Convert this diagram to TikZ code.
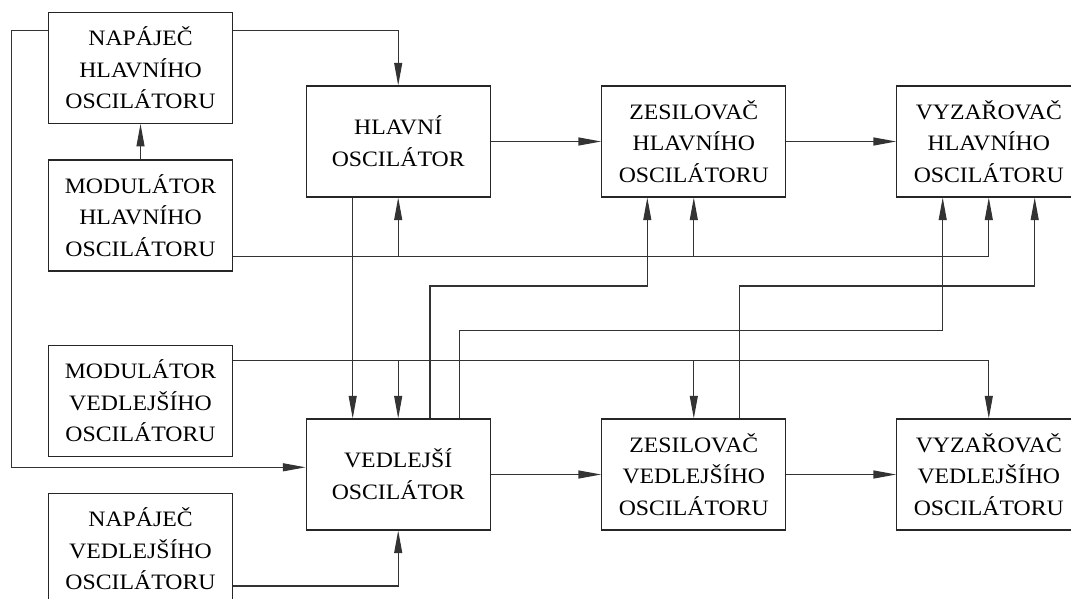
\documentclass[tikz,border=0pt]{standalone}
\usepackage{fontspec}
\setmainfont{Liberation Serif}[FakeStretch=1.08]
\usetikzlibrary{arrows.meta}
\begin{document}
\begin{tikzpicture}[x=0.75pt,y=-0.75pt,
  box/.style={draw=black!85, line width=0.8pt, minimum width=138.2pt, minimum height=83.25pt,
              inner sep=0pt, align=center, font=\fontsize{16.5}{23.8}\selectfont},
  wire/.style={draw=black!80, line width=0.8pt},
  arr/.style={wire, -{Triangle[length=17pt,width=6pt]}}]
\useasboundingbox (0,0) rectangle (1071,599);
\clip (0,0) rectangle (1071,599);

% boxes
\node[box] (NH) at (140.5,67.8)  {NAPÁJEČ\\HLAVNÍHO\\OSCILÁTORU};
\node[box] (MH) at (140.5,215.5) {MODULÁTOR\\HLAVNÍHO\\OSCILÁTORU};
\node[box] (MV) at (140.5,400.8) {MODULÁTOR\\VEDLEJŠÍHO\\OSCILÁTORU};
\node[box] (NV) at (140.5,548.8) {NAPÁJEČ\\VEDLEJŠÍHO\\OSCILÁTORU};
\node[box] (HO) at (398.2,141.5) {HLAVNÍ\\OSCILÁTOR};
\node[box] (VO) at (398.2,474.5) {VEDLEJŠÍ\\OSCILÁTOR};
\node[box] (ZH) at (693.8,141.5) {ZESILOVAČ\\HLAVNÍHO\\OSCILÁTORU};
\node[box] (ZV) at (693.8,474.5) {ZESILOVAČ\\VEDLEJŠÍHO\\OSCILÁTORU};
\node[box] (VH) at (988.8,141.5) {VYZAŘOVAČ\\HLAVNÍHO\\OSCILÁTORU};
\node[box] (VV) at (988.8,474.5) {VYZAŘOVAČ\\VEDLEJŠÍHO\\OSCILÁTORU};

% bend points
\coordinate (bendL) at (11.7,467.3);
\coordinate (b1) at (647.3,286);
\coordinate (b2) at (942.7,330.7);
\coordinate (b3) at (1034.7,286);

% main chains
\draw[arr] (HO.east) -- (ZH.west);
\draw[arr] (ZH.east) -- (VH.west);
\draw[arr] (VO.east) -- (ZV.west);
\draw[arr] (ZV.east) -- (VV.west);

% power supply of main oscillator
\draw[arr] (NH.east |- 0,30.7) -| (HO.north);
\draw[arr] (NH.west |- 0,30.7) -| (bendL) -- (VO.west |- bendL);
\draw[arr] (MH.north) -- (NH.south);

% modulator of main oscillator bus
\draw[arr] (MH.east |- 0,256.7) -| (VH.south);
\draw[arr] (HO.south |- 0,256.7) -- (HO.south);
\draw[arr] (ZH.south |- 0,256.7) -- (ZH.south);

% main oscillator to secondary
\draw[arr] (HO.south -| 352.7,0) -- (VO.north -| 352.7,0);

% modulator of secondary oscillator bus
\draw[arr] (MV.east |- 0,360.3) -| (VV.north);
\draw[arr] (VO.north |- 0,360.3) -- (VO.north);
\draw[arr] (ZV.north |- 0,360.3) -- (ZV.north);

% cross links
\draw[arr] (VO.north -| 430,0) |- (b1) -- (ZH.south -| b1);
\draw[arr] (VO.north -| 459.3,0) |- (b2) -- (VH.south -| b2);
\draw[arr] (ZV.north -| 739.7,0) |- (b3) -- (VH.south -| b3);

% power supply of secondary oscillator
\draw[arr] (NV.east |- 0,586) -| (VO.south);
\end{tikzpicture}
\end{document}
